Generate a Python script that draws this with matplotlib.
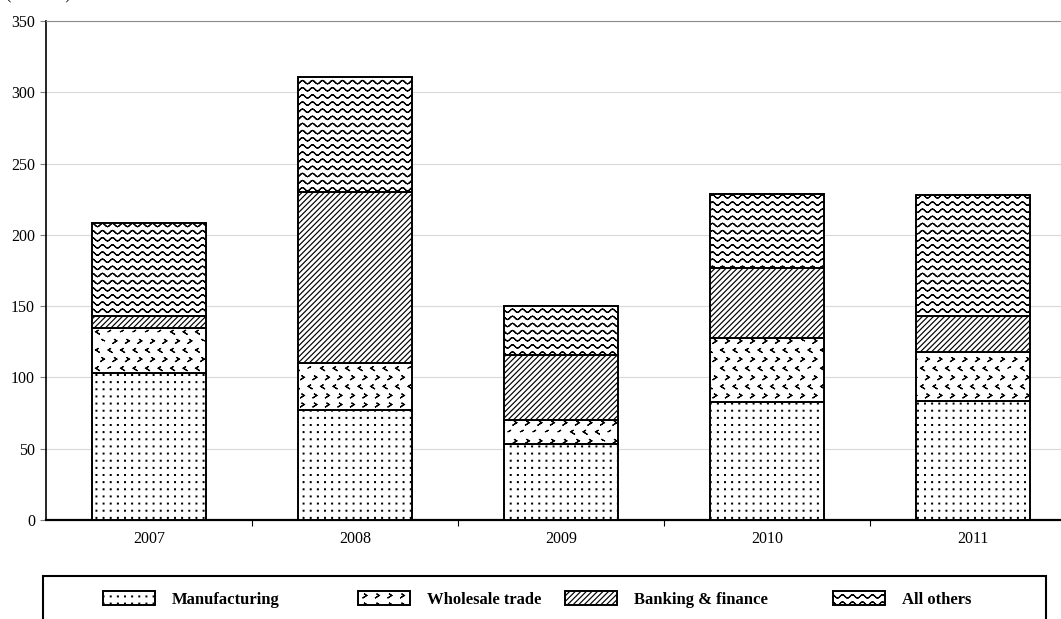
import warnings
warnings.filterwarnings('ignore')
import numpy as np
import matplotlib
matplotlib.use('Agg')
import matplotlib.pyplot as plt
import matplotlib.hatch as mhatch
from matplotlib.path import Path
from matplotlib.patches import Rectangle

# ---------------- data ----------------
years = ['2007', '2008', '2009', '2010', '2011']
manufacturing = [103, 77, 53, 83, 83.5]
wholesale = [31.5, 33, 17, 45, 34.5]
banking = [8.5, 120, 45.5, 49, 25]
others = [65, 81, 34.5, 52, 85]
series_names = ['Manufacturing', 'Wholesale trade', 'Banking & finance', 'All others']
y_ticks = [0, 50, 100, 150, 200, 250, 300, 350]
unit_label = '($ billion)'


# ---------------- custom hatch patterns (style only) ----------------
class DotHatch(mhatch.HatchPatternBase):
    def __init__(self, hatch, density):
        self.n = 14 if 'd' in hatch else 0
        self.num_vertices = self.n * self.n * 5

    def set_vertices_and_codes(self, vertices, codes):
        s = 0.004
        k = 0
        for i in range(self.n):
            for j in range(self.n):
                cx = (j + 0.5) / self.n
                cy = (i + 0.5) / self.n
                vertices[k:k + 5] = [[cx - s, cy - s], [cx + s, cy - s],
                                     [cx + s, cy + s], [cx - s, cy + s],
                                     [cx - s, cy - s]]
                codes[k:k + 5] = [Path.MOVETO, Path.LINETO, Path.LINETO,
                                  Path.LINETO, Path.CLOSEPOLY]
                k += 5


class ChevronHatch(mhatch.HatchPatternBase):
    def __init__(self, hatch, density):
        self.rows = 11 if 'c' in hatch else 0
        self.cols = 8
        self.num_vertices = self.rows * self.cols * 5

    def set_vertices_and_codes(self, vertices, codes):
        a, b = 0.011, 0.014
        k = 0
        for i in range(self.rows):
            cy = (i + 0.5) / self.rows
            right = (i % 2 == 0)
            for j in range(self.cols):
                cx = (j + (0.25 if right else 0.75)) / self.cols
                d = 1 if right else -1
                A = [cx - d * a, cy + b]
                B = [cx + d * a, cy]
                C = [cx - d * a, cy - b]
                vertices[k:k + 5] = [A, B, C, B, A]
                codes[k:k + 5] = [Path.MOVETO] + [Path.LINETO] * 4
                k += 5


class WaveHatch(mhatch.HatchPatternBase):
    def __init__(self, hatch, density):
        self.rows = 14 if 'w' in hatch else 0
        self.periods = 10
        self.pts = self.periods * 8 + 1
        self.num_vertices = self.rows * self.pts * 2

    def set_vertices_and_codes(self, vertices, codes):
        x = np.linspace(0, 1, self.pts)
        amp = 0.017
        k = 0
        for i in range(self.rows):
            y0 = (i + 0.5) / self.rows
            y = y0 + amp * np.sin(2 * np.pi * self.periods * x)
            xs = np.concatenate([x, x[::-1]])
            ys = np.concatenate([y, y[::-1]])
            n = len(xs)
            vertices[k:k + n, 0] = xs
            vertices[k:k + n, 1] = ys
            codes[k:k + n] = Path.LINETO
            codes[k] = Path.MOVETO
            k += n


mhatch._hatch_types.extend([DotHatch, ChevronHatch, WaveHatch])

plt.rcParams['font.family'] = ['Liberation Serif', 'DejaVu Serif']
plt.rcParams['hatch.linewidth'] = 0.85

W, H = 1061, 619
fig = plt.figure(figsize=(W / 100, H / 100), dpi=100)
ax = fig.add_axes([46 / W, 1 - 520 / H, 1030 / W, 499 / H])

x = np.arange(len(years))
series = [manufacturing, wholesale, banking, others]
hatches = ['d', 'c', '//////', 'w']
bottom = np.zeros(len(years))
containers = []
for vals, hatch, name in zip(series, hatches, series_names):
    bc = ax.bar(x, vals, width=0.558, bottom=bottom, facecolor='white',
                edgecolor='black', linewidth=1.4, hatch=hatch, label=name,
                zorder=3)
    containers.append(bc)
    bottom = bottom + np.array(vals)

ax.set_xlim(-0.5, len(years) - 0.5)
ax.set_ylim(y_ticks[0], y_ticks[-1])
ax.set_yticks(y_ticks)
ax.yaxis.grid(True, color='#d9d9d9', linewidth=0.8)
ax.set_axisbelow(True)

ax.spines['right'].set_visible(False)
ax.spines['top'].set_color('#8c8c8c')
ax.spines['top'].set_linewidth(0.8)
ax.spines['left'].set_color('black')
ax.spines['left'].set_linewidth(1.2)
ax.spines['bottom'].set_color('black')
ax.spines['bottom'].set_linewidth(1.6)

ax.tick_params(axis='y', direction='out', length=4, width=0.8, color='#808080',
               labelsize=11.5, labelcolor='black', pad=4)
ax.set_xticks(x[:-1] + 0.5)
ax.set_xticklabels([])
ax.set_xticks(x, minor=True)
ax.set_xticklabels(years, minor=True)
ax.tick_params(axis='x', which='major', direction='out', length=4, width=0.8,
               color='black')
ax.tick_params(axis='x', which='minor', length=0, labelsize=11.5, pad=8)

# partially visible unit label at top-left (cut by the top edge, as in the source)
fig.text(6 / W, 1 + 1.0 / H, unit_label, fontsize=11.5, ha='left', va='baseline')

# legend frame
fig.patches.append(Rectangle((43 / W, -0.05), (1046 - 43) / W, 0.05 + (1 - 576 / H),
                             transform=fig.transFigure, facecolor='none',
                             edgecolor='black', linewidth=1.5, clip_on=False))

handle_x = [103, 358, 565, 833]
fs = 12
for bc, name, hx in zip(containers, series_names, handle_x):
    fig.legend([bc], [name], loc='center left',
               bbox_to_anchor=(hx / W, 1 - 599.5 / H),
               frameon=False, borderpad=0, borderaxespad=0,
               handlelength=3.1, handleheight=0.85, handletextpad=1.05,
               prop={'family': 'Liberation Serif', 'weight': 'bold', 'size': fs})

fig.savefig('out.png', dpi=100)
